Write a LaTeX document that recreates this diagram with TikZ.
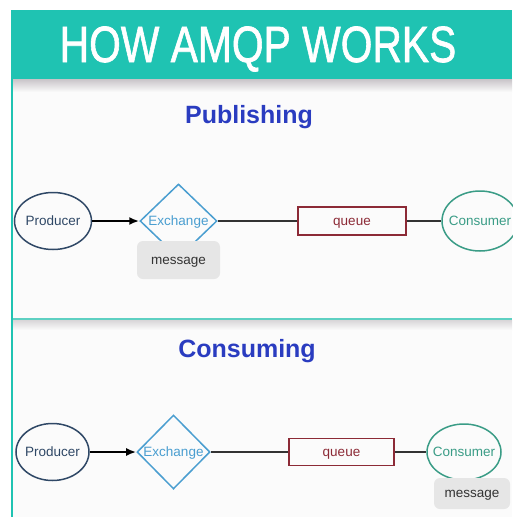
\documentclass[tikz,border=0pt]{standalone}
\usepackage{fontspec}
\setmainfont{Liberation Sans}
\newfontfamily\headfont[FakeBold=1.4]{Liberation Sans}
\usetikzlibrary{shapes.geometric,arrows.meta}

\definecolor{headteal}{HTML}{1FC3B2}
\definecolor{edgeteal}{HTML}{5ED0C2}
\definecolor{titleblue}{HTML}{2A3CC0}
\definecolor{prodcol}{HTML}{2F4866}
\definecolor{exchcol}{HTML}{4A9ED0}
\definecolor{queuecol}{HTML}{8C2A36}
\definecolor{conscol}{HTML}{3A9C86}
\definecolor{msgfill}{HTML}{E6E6E6}
\definecolor{msgtext}{HTML}{333333}
\definecolor{panelbg}{HTML}{FBFBFB}
\definecolor{shadowgray}{HTML}{C8C4C8}
\definecolor{linkgray}{HTML}{333333}

\begin{document}
\begin{tikzpicture}[x=1pt,y=-1pt,
  lbl/.style={font=\fontsize{13.5}{16}\selectfont, inner sep=0pt, anchor=base, yshift=-4.5pt},
  prodshape/.style={ellipse, draw=prodcol, line width=1.5pt, inner sep=0pt},
  exchshape/.style={diamond, draw=exchcol, line width=1.5pt, inner sep=0pt},
  queueshape/.style={rectangle, draw=queuecol, line width=1.5pt, inner sep=0pt},
  consshape/.style={ellipse, draw=conscol, line width=1.5pt, inner sep=0pt},
  msgbox/.style={rectangle, rounded corners=6pt, fill=msgfill, inner sep=0pt},
  msgtxt/.style={font=\fontsize{13.5}{15}\selectfont, text=msgtext, inner sep=0pt,
    anchor=base, yshift=-4pt},
  sectitle/.style={font=\fontsize{25}{28}\selectfont\bfseries, text=titleblue, anchor=base},
  push/.style={-{Latex[length=10pt,width=8pt]}, line width=2.2pt, black},
  link/.style={line width=1.7pt, linkgray}]

\useasboundingbox (0,0) rectangle (512,517);
\fill[white] (0,0) rectangle (512,517);

% panel background and drop shadows
\fill[panelbg] (11,79) rectangle (512,517);
\shade[top color=shadowgray, bottom color=panelbg] (11,79) rectangle (512,92);
\shade[top color=shadowgray!70, bottom color=panelbg] (11,320) rectangle (512,330);
\draw[edgeteal, line width=1.5pt] (11,319) -- (512,319);
\draw[headteal, line width=2pt] (12,79) -- (12,517);

% header band
\fill[headteal] (11,10) rectangle (512,79);
\node[text=white, font=\headfont\fontsize{51}{53}\selectfont, anchor=base, inner sep=0pt]
  (head) at (258,62) {\scalebox{0.8}[1]{HOW AMQP WORKS}};

% ---------- Publishing ----------
\node[sectitle] (pubtitle) at (249,123) {Publishing};

\node[prodshape, minimum width=77pt, minimum height=57pt] (p1) at (53,221) {};
\node[lbl, text=prodcol] at (p1) {Producer};
\node[exchshape, minimum width=77pt, minimum height=74pt] (x1) at (178.5,221) {};
\node[lbl, text=exchcol] at (x1) {Exchange};
\node[queueshape, minimum width=108pt, minimum height=28pt] (q1) at (352,221) {};
\node[lbl, text=queuecol] at (q1) {queue};
\node[consshape, minimum width=76pt, minimum height=60pt] (c1) at (480,221) {};
\node[lbl, text=conscol] at (c1) {Consumer};

\draw[push] (p1) -- (x1);
\draw[link] (x1) -- (q1);
\draw[link] (q1) -- (c1);

\node[msgbox, minimum width=83pt, minimum height=38pt] (m1) at (178.5,260) {};
\node[msgtxt] at (m1) {message};

% ---------- Consuming ----------
\node[sectitle] (contitle) at (247,357) {Consuming};

\node[prodshape, minimum width=73pt, minimum height=57pt] (p2) at (52.5,452) {};
\node[lbl, text=prodcol] at (p2) {Producer};
\node[exchshape, minimum width=73pt, minimum height=74pt] (x2) at (173.5,452) {};
\node[lbl, text=exchcol] at (x2) {Exchange};
\node[queueshape, minimum width=105pt, minimum height=27pt] (q2) at (341.5,452) {};
\node[lbl, text=queuecol] at (q2) {queue};
\node[consshape, minimum width=74pt, minimum height=56pt] (c2) at (464,452) {};
\node[lbl, text=conscol] at (c2) {Consumer};

\draw[push] (p2) -- (x2);
\draw[link] (x2) -- (q2);
\draw[link] (q2) -- (c2);

\node[msgbox, minimum width=76pt, minimum height=31pt] (m2) at (472,493.5) {};
\node[msgtxt] at (m2) {message};

\end{tikzpicture}
\end{document}
